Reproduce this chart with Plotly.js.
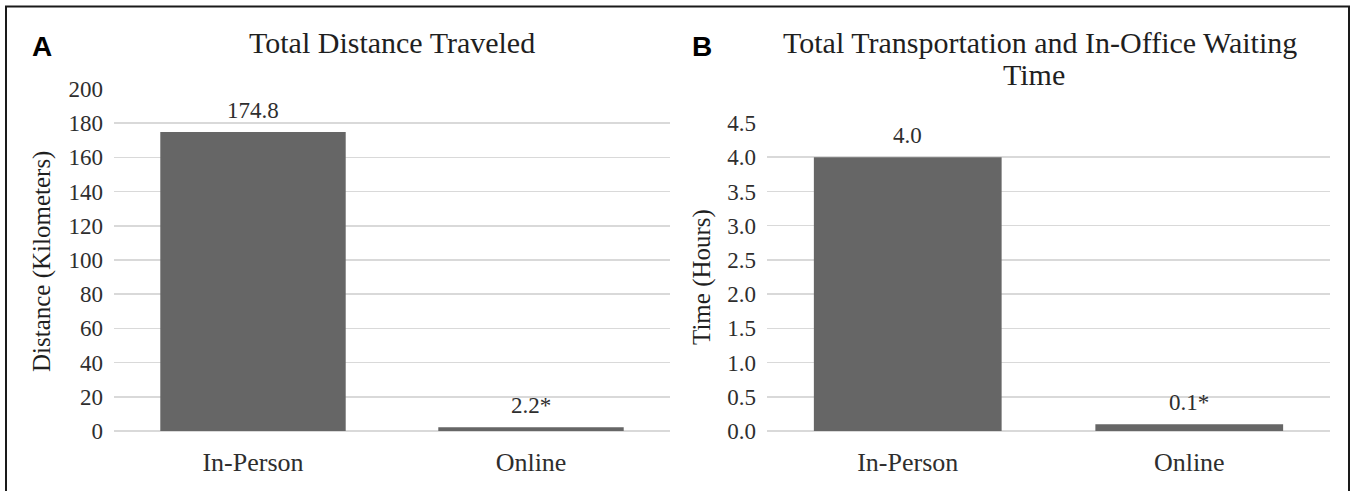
<!DOCTYPE html>
<html>
<head>
<meta charset="utf-8">
<script src="https://cdn.plot.ly/plotly-3.0.1.min.js"></script>
<style>
html,body{margin:0;padding:0;background:#fff;}
#chart{width:1355px;height:491px;}
</style>
</head>
<body>
<div id="chart"></div>
<script>
// Data
const categories = ["In-Person", "Online"];
const distanceKm = [174.8, 2.2];
const distanceLabels = ["174.8", "2.2*"];
const timeHours = [4.0, 0.1];
const timeLabels = ["4.0", "0.1*"];
const distanceTicks = [0, 20, 40, 60, 80, 100, 120, 140, 160, 180, 200];
const timeTicks = [0, 0.5, 1, 1.5, 2, 2.5, 3, 3.5, 4, 4.5];
const timeTickText = ["0.0","0.5","1.0","1.5","2.0","2.5","3.0","3.5","4.0","4.5"];
const titleA = "Total Distance Traveled";
const titleBLines = ["Total Transportation and In-Office Waiting", "Time"];

const W = 1355, H = 491;
const serif = "'Liberation Serif', 'Times New Roman', serif";
const sans = "'Liberation Sans', Arial, sans-serif";
const barColor = "#666666";
const gridColor = "#d9d9d9";
const textColor = "#2e2e2e";
const titleColor = "#1f1f1f";

const traces = [
  {type: "bar", x: categories, y: distanceKm, xaxis: "x", yaxis: "y",
   marker: {color: barColor}, hoverinfo: "none"},
  {type: "bar", x: categories, y: timeHours, xaxis: "x2", yaxis: "y2",
   marker: {color: barColor}, hoverinfo: "none"}
];

const px = v => v / W;
const py = v => (H - v) / H;

const axisCommon = {
  showline: false, ticks: "", showgrid: false, fixedrange: true,
  tickfont: {family: serif, size: 26, color: textColor}
};
const yCommon = {
  showline: false, ticks: "", showgrid: true, gridcolor: gridColor, gridwidth: 1.5,
  zeroline: true, zerolinecolor: gridColor, zerolinewidth: 1.5,
  tickfont: {family: serif, size: 23, color: textColor}, fixedrange: true,
  ticklabelstandoff: 10
};

const annotations = [];
categories.forEach((c, i) => {
  annotations.push({xref: "x", yref: "y", x: c, y: distanceKm[i], text: distanceLabels[i],
    showarrow: false, yanchor: "bottom", yshift: 7,
    font: {family: serif, size: 23, color: textColor}});
  annotations.push({xref: "x2", yref: "y2", x: c, y: timeHours[i], text: timeLabels[i],
    showarrow: false, yanchor: "bottom", yshift: 7,
    font: {family: serif, size: 23, color: textColor}});
});
// Panel titles
annotations.push({xref: "paper", yref: "paper", x: px(392), y: py(43), text: titleA,
  showarrow: false, xanchor: "center", yanchor: "middle",
  font: {family: serif, size: 30, color: titleColor}});
annotations.push({xref: "paper", yref: "paper", x: px(1040), y: py(43), text: titleBLines[0],
  showarrow: false, xanchor: "center", yanchor: "middle",
  font: {family: serif, size: 30, color: titleColor}});
annotations.push({xref: "paper", yref: "paper", x: px(1034), y: py(75), text: titleBLines[1],
  showarrow: false, xanchor: "center", yanchor: "middle",
  font: {family: serif, size: 30, color: titleColor}});
// Panel letters
annotations.push({xref: "paper", yref: "paper", x: px(42), y: py(47), text: "<b>A</b>",
  showarrow: false, xanchor: "center", yanchor: "middle",
  font: {family: sans, size: 28, color: "#000000"}});
annotations.push({xref: "paper", yref: "paper", x: px(702), y: py(46), text: "<b>B</b>",
  showarrow: false, xanchor: "center", yanchor: "middle",
  font: {family: sans, size: 28, color: "#000000"}});
// Y axis titles
annotations.push({xref: "paper", yref: "paper", x: px(42), y: py(262), text: "Distance (Kilometers)",
  showarrow: false, textangle: -90, xanchor: "center", yanchor: "middle",
  font: {family: serif, size: 25, color: titleColor}});
annotations.push({xref: "paper", yref: "paper", x: px(702), y: py(277), text: "Time (Hours)",
  showarrow: false, textangle: -90, xanchor: "center", yanchor: "middle",
  font: {family: serif, size: 25, color: titleColor}});

const layout = {
  width: W, height: H,
  margin: {l: 0, r: 0, t: 0, b: 0},
  paper_bgcolor: "#ffffff", plot_bgcolor: "#ffffff",
  showlegend: false,
  bargap: 0.333,
  xaxis: Object.assign({}, axisCommon, {domain: [px(114), px(670)], anchor: "y", ticklabelstandoff: 13}),
  yaxis: Object.assign({}, yCommon, {domain: [py(431), py(89)], range: [0, 200], tickvals: distanceTicks, anchor: "x"}),
  xaxis2: Object.assign({}, axisCommon, {domain: [px(767), px(1330)], anchor: "y2", ticklabelstandoff: 13}),
  yaxis2: Object.assign({}, yCommon, {domain: [py(431), py(123)], range: [0, 4.5], tickvals: timeTicks, ticktext: timeTickText, anchor: "x2"}),
  annotations: annotations,
  shapes: [
    {type: "rect", xref: "paper", yref: "paper", x0: px(6), x1: px(1349), y0: py(495), y1: py(6.5),
     line: {color: "#1a1a1a", width: 2}, fillcolor: "rgba(0,0,0,0)", layer: "above"}
  ]
};

Plotly.newPlot("chart", traces, layout, {staticPlot: true, displayModeBar: false});
</script>
</body>
</html>
